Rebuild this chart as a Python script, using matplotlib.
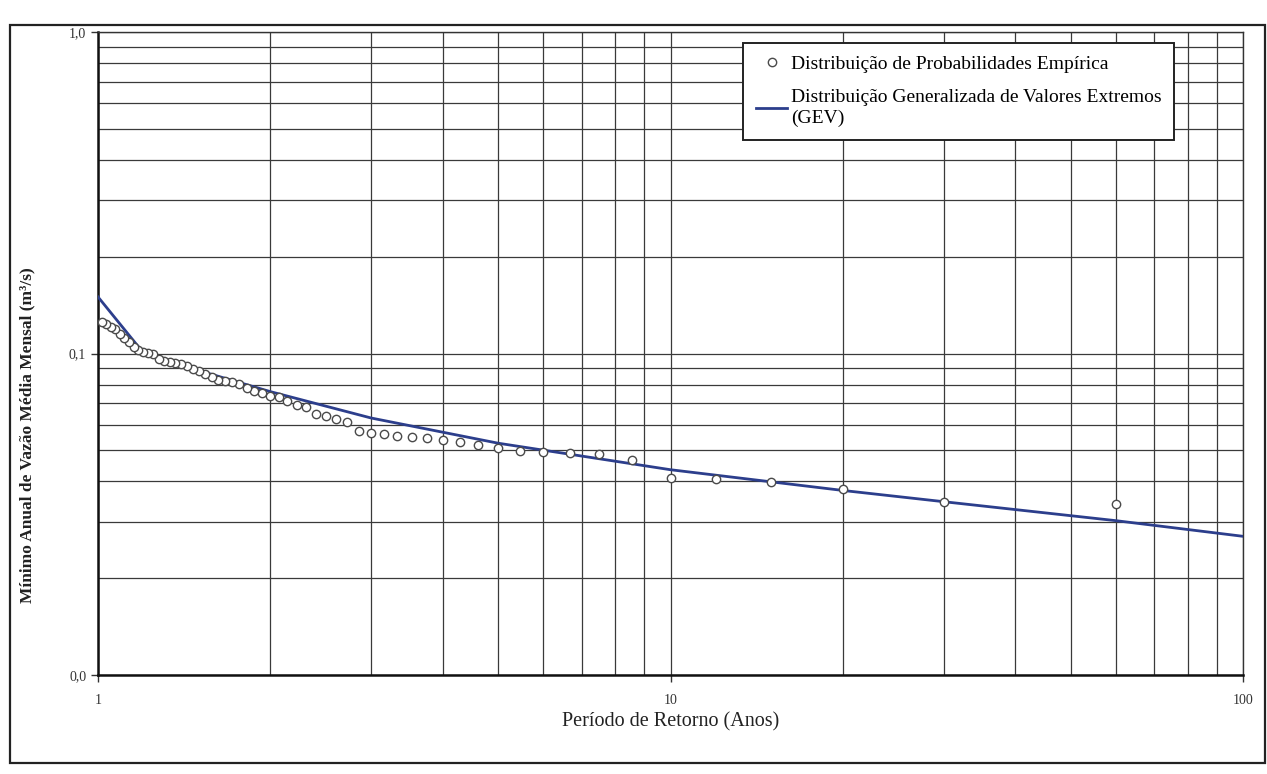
import matplotlib.pyplot as plt
from matplotlib.patches import Rectangle
from matplotlib.ticker import FixedLocator, LogLocator, NullFormatter

# Empirical distribution: return period T = (n + 1) / m, n = 59 years
order = list(range(1, 60))
periodo = [60 / m for m in order]
vazao = [
    0.0341, 0.0344, 0.0380, 0.0397, 0.0408, 0.0410, 0.0466, 0.0488, 0.0490, 0.0494,
    0.0499, 0.0508, 0.0520, 0.0529, 0.0537, 0.0546, 0.0551, 0.0555, 0.0560, 0.0565,
    0.0574, 0.0613, 0.0627, 0.0637, 0.0647, 0.0681, 0.0692, 0.0712, 0.0733, 0.0740,
    0.0751, 0.0762, 0.0779, 0.0803, 0.0815, 0.0821, 0.0828, 0.0847, 0.0866, 0.0885,
    0.0898, 0.0912, 0.0926, 0.0932, 0.0940, 0.0947, 0.0962, 0.0997, 0.1005, 0.1012,
    0.1027, 0.1050, 0.1089, 0.1121, 0.1154, 0.1188, 0.1206, 0.1233, 0.1251,
]

# Fitted GEV curve
gev_t = [1.0, 1.2, 1.5, 2, 3, 5, 10, 20, 30, 60, 100]
gev_q = [0.150, 0.1005, 0.0885, 0.0761, 0.0630, 0.0526, 0.0435, 0.0375, 0.0346, 0.0302, 0.0270]

W, H = 1267, 774
plt.rcParams["font.family"] = ["Liberation Serif", "DejaVu Serif"]

fig = plt.figure(figsize=(W / 100, H / 100), dpi=100)
fig.patch.set_facecolor("white")

# outer chart-area border
fig.add_artist(Rectangle((10 / W, 1 - 763 / H), 1255 / W, 738 / H,
                         transform=fig.transFigure, fill=False,
                         edgecolor="#222222", linewidth=1.6))

ax = fig.add_axes([98 / W, 1 - 675 / H, 1145 / W, 643 / H])
ax.set_xscale("log")
ax.set_yscale("log")
ax.set_xlim(1, 100)
ax.set_ylim(0.01, 1.0)

ax.plot(gev_t, gev_q, color="#2c3e8c", linewidth=2.0, zorder=3,
        label="Distribuição Generalizada de Valores Extremos\n(GEV)")
ax.plot(periodo, vazao, linestyle="none", marker="o", markersize=6,
        markerfacecolor="white", markeredgecolor="#4a4a4a", markeredgewidth=1.0,
        zorder=4, label="Distribuição de Probabilidades Empírica")

ax.xaxis.set_major_locator(FixedLocator([1, 10, 100]))
ax.xaxis.set_minor_locator(LogLocator(base=10, subs=range(2, 10)))
ax.yaxis.set_major_locator(FixedLocator([0.01, 0.1, 1.0]))
ax.yaxis.set_minor_locator(LogLocator(base=10, subs=range(2, 10)))
ax.xaxis.set_minor_formatter(NullFormatter())
ax.yaxis.set_minor_formatter(NullFormatter())
ax.set_xticklabels(["1", "10", "100"])
ax.set_yticklabels(["0,0", "0,1", "1,0"])

ax.grid(True, which="both", color="#3a3a3a", linewidth=0.9)
ax.set_axisbelow(True)
ax.tick_params(which="major", length=5, width=1, color="#333333",
               labelsize=10, labelcolor="#333333")
ax.tick_params(axis="x", which="major", pad=9)
ax.tick_params(which="minor", length=0)
for side in ["left", "bottom"]:
    ax.spines[side].set_linewidth(1.8)
    ax.spines[side].set_color("#111111")
for side in ["top", "right"]:
    ax.spines[side].set_linewidth(1.0)
    ax.spines[side].set_color("#333333")

ax.set_xlabel("Período de Retorno (Anos)", fontsize=14.5, color="#222222")
ax.xaxis.set_label_coords(0.5, -0.058)
ax.set_ylabel("Mínimo Anual de Vazão Média Mensal (m³/s)", fontsize=12.5,
              fontweight="bold", color="#222222")
ax.yaxis.set_label_coords(-0.055, 0.373)

handles, labels = ax.get_legend_handles_labels()
leg = ax.legend(handles[::-1], labels[::-1], loc="upper right",
                bbox_to_anchor=(0.94, 0.983), fontsize=14, frameon=True,
                fancybox=False, edgecolor="#222222", framealpha=1,
                handlelength=1.6, handletextpad=0.2, borderpad=0.65,
                labelspacing=0.8, borderaxespad=0)
for t in leg.get_texts():
    t.set_linespacing(1.3)
leg.get_frame().set_linewidth(1.4)

fig.savefig("out.png", dpi=100, facecolor="white")
